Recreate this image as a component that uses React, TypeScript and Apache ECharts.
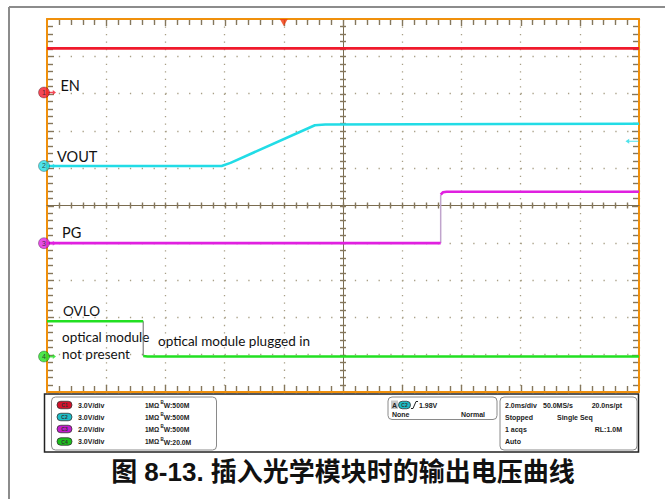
import React, { useEffect, useRef } from 'react';
import * as echarts from 'echarts';

// ---- scope settings (time in ms relative to trigger, 2 ms/div; vertical in divisions) ----
const timeMin = -8;
const timeMax = 12;
const timeDiv = 2;
const divMin = -5;
const divMax = 5;
const minorPerDiv = 5;

const channelNames = ['EN', 'VOUT', 'PG', 'OVLO'];
const channelIds = ['1', '2', '3', '4'];
const channelColors = ['#f01a2c', '#22dce6', '#e020e0', '#22e022'];
const channelOffsets = [3.03, 1.06, -1.01, -4.05]; // ground level, divisions
const channelScales = [3, 3, 2, 3]; // V/div
const channelVdiv = ['3.0V/div', '3.0V/div', '2.0V/div', '3.0V/div'];
const channelBw = ['500M', '500M', '500M', '20.0M'];
const pillColors = ['#d4102a', '#1cbcc6', '#c41ccc', '#1cc01c'];

// ---- traces (volts) ----
const enTime = [-8, 12];
const enVolt = [3.55, 3.55];
const voutTime = [-8, -2.1, -1.8, 1.05, 1.4, 12];
const voutVolt = [0, 0, 0.25, 3.27, 3.33, 3.4];
const pgTime = [-8, 5.3, 5.3, 5.38, 5.5, 12];
const pgVolt = [0, 0, 2.6, 2.73, 2.76, 2.76];
const ovloTime = [-8, -4.75, -4.75, -4.6, 12];
const ovloVolt = [2.84, 2.84, 0.05, 0, 0];
const triggerLevel = 1.98; // V on C2

const toPts = (ch: number, t: number[], v: number[], from = 0, to = t.length) =>
  t.slice(from, to).map((x, i) => [x, channelOffsets[ch] + v[from + i] / channelScales[ch]]);

const orange = '#f0900c';
const tickColor = '#85775c';
const centerColor = '#7a6c50';
const gridDot = '#a89f86';

export default function App() {
  const ref = useRef<HTMLDivElement>(null);
  useEffect(() => {
    const chart = echarts.init(ref.current!, null, { renderer: 'svg' });
    const baseX: any = { type: 'value', min: timeMin, max: timeMax, interval: timeDiv, axisLabel: { show: false }, axisTick: { show: false }, splitLine: { show: false } };
    const baseY: any = { type: 'value', min: divMin, max: divMax, interval: 1, axisLabel: { show: false }, axisTick: { show: false }, splitLine: { show: false } };
    const border = { show: true, onZero: false, lineStyle: { color: orange, width: 2 } };
    const center = { show: true, onZero: false, lineStyle: { color: centerColor, width: 1 } };

    const lineSeries = (data: number[][], color: string, width: number, z = 5) => ({
      type: 'line', data, showSymbol: false, symbol: 'none', xAxisIndex: 0, yAxisIndex: 0,
      lineStyle: { color, width }, z, silent: true,
    });

    const textEl = (x: number, y: number, text: string, fontSize: number, extra: any = {}) => ({
      type: 'text', x, y, silent: true,
      style: { text, fontSize, fontFamily: 'Lato, "Liberation Sans", sans-serif', fill: '#111', align: 'left', verticalAlign: 'middle', ...extra },
    });
    const panelText = (x: number, y: number, text: string, extra: any = {}) => ({
      type: 'text', x, y, silent: true,
      style: { text, fontSize: 7, fontFamily: '"Liberation Sans", Arial, sans-serif', fontWeight: 'bold', fill: '#222', align: 'left', verticalAlign: 'middle', ...extra },
    });

    const rowsY = [405, 417, 429, 441.5];
    const panelEls: any[] = [
      { type: 'rect', shape: { x: 44.5, y: 394, width: 594, height: 58 }, style: { fill: '#fff', stroke: '#222', lineWidth: 1.5 } },
      { type: 'rect', shape: { x: 51.5, y: 397, width: 165, height: 53, r: 4 }, style: { fill: 'none', stroke: '#8a8a8a', lineWidth: 1 } },
      { type: 'rect', shape: { x: 388, y: 397, width: 109, height: 22.5, r: 4 }, style: { fill: 'none', stroke: '#8a8a8a', lineWidth: 1 } },
      { type: 'rect', shape: { x: 500, y: 397, width: 137, height: 53, r: 4 }, style: { fill: 'none', stroke: '#8a8a8a', lineWidth: 1 } },
    ];
    rowsY.forEach((ry, i) => {
      panelEls.push({ type: 'rect', shape: { x: 57, y: ry - 3.75, width: 15, height: 7.5, r: 3.75 }, style: { fill: pillColors[i], stroke: '#333', lineWidth: 0.8 } });
      panelEls.push(panelText(64.5, ry, 'C' + channelIds[i], { fontSize: 5, align: 'center', fill: '#333' }));
      panelEls.push(panelText(78, ry, channelVdiv[i]));
      panelEls.push(panelText(145, ry, '1MΩ', { fontSize: 6.5 }));
      panelEls.push(panelText(160.5, ry - 2.5, 'B', { fontSize: 4.5 }));
      panelEls.push(panelText(163.8, ry + 0.5, 'W:' + channelBw[i], { fontSize: 6.8 }));
    });
    panelEls.push(
      { type: 'rect', shape: { x: 391, y: 400.5, width: 7, height: 8.5 }, style: { fill: '#c8c8c8' } },
      panelText(394.5, 405, 'A', { align: 'center' }),
      { type: 'rect', shape: { x: 398.5, y: 401.25, width: 12, height: 7.5, r: 3.75 }, style: { fill: pillColors[1], stroke: '#333', lineWidth: 0.8 } },
      panelText(404.5, 405, 'C2', { fontSize: 5, align: 'center', fill: '#333' }),
      { type: 'polyline', shape: { points: [[411, 408.5], [413, 408.5], [416, 401.5], [418, 401.5]] }, style: { stroke: '#222', lineWidth: 1, fill: 'none' } },
      panelText(419, 405, triggerLevel.toFixed(2) + 'V'),
      panelText(392, 414.5, 'None'),
      panelText(485, 414.5, 'Normal', { align: 'right' }),
      panelText(505, rowsY[0], '2.0ms/div'),
      panelText(543, rowsY[0], '50.0MS/s'),
      panelText(622, rowsY[0], '20.0ns/pt', { align: 'right' }),
      panelText(505, rowsY[1], 'Stopped'),
      panelText(557, rowsY[1], 'Single Seq'),
      panelText(505, rowsY[2], '1 acqs'),
      panelText(622, rowsY[2], 'RL:1.0M', { align: 'right' }),
      panelText(505, rowsY[3], 'Auto'),
    );

    const baseGraphic: any[] = [
      { type: 'line', shape: { x1: 9, y1: 7, x2: 665, y2: 7 }, style: { stroke: '#8c8c8c', lineWidth: 2 } },
      { type: 'line', shape: { x1: 9, y1: 7, x2: 9, y2: 499 }, style: { stroke: '#8c8c8c', lineWidth: 2 } },
      textEl(60.5, 85, channelNames[0], 14.5),
      textEl(57, 156, channelNames[1], 14.5),
      textEl(62, 232, channelNames[2], 14.5),
      textEl(63, 310.5, channelNames[3], 13.5),
      textEl(62, 337, 'optical module', 13.5),
      textEl(62, 353.5, 'not present', 13.5),
      textEl(158, 341, 'optical module plugged in', 13.5),
      ...panelEls,
      {
        type: 'text', x: 343, y: 472, silent: true,
        style: { text: '图 8-13. 插入光学模块时的输出电压曲线', fontSize: 26, fontWeight: 'bold', fontFamily: '"Liberation Sans", "Noto Sans CJK SC", sans-serif', fill: '#111', align: 'center', verticalAlign: 'middle' },
      },
    ];

    const option: any = {
      animation: false,
      backgroundColor: '#fff',
      grid: { left: 47, top: 19, width: 592, height: 373, containLabel: false },
      xAxis: [
        { ...baseX, position: 'bottom', axisLine: border, splitLine: { show: true, lineStyle: { color: gridDot, width: 1.3, type: [1.3, 6.16] } } },
        { ...baseX, position: 'top', axisLine: border },
        { ...baseX, position: 'bottom', offset: -186.5, axisLine: center },
      ],
      yAxis: [
        { ...baseY, position: 'left', axisLine: border, splitLine: { show: true, lineStyle: { color: gridDot, width: 1.3, type: [1.3, 10.54] } } },
        { ...baseY, position: 'right', axisLine: border },
        { ...baseY, position: 'left', offset: -296, axisLine: center },
      ],
      series: [
        lineSeries(toPts(0, enTime, enVolt), channelColors[0], 2.6),
        lineSeries(toPts(1, voutTime, voutVolt), channelColors[1], 2.6),
        lineSeries(toPts(2, pgTime, pgVolt, 0, 2), channelColors[2], 2.6),
        lineSeries(toPts(2, pgTime, pgVolt, 1, 3), '#c0a4cc', 1.5, 4),
        lineSeries(toPts(2, pgTime, pgVolt, 2), channelColors[2], 2.6),
        lineSeries(toPts(3, ovloTime, ovloVolt, 0, 2), channelColors[3], 2.6),
        lineSeries(toPts(3, ovloTime, ovloVolt, 1, 3), '#666', 1, 4),
        lineSeries(toPts(3, ovloTime, ovloVolt, 2), channelColors[3], 2.6),
        {
          type: 'scatter', clip: false, silent: true, z: 10, xAxisIndex: 0, yAxisIndex: 0,
          symbol: 'path://M0,3 L6,3 L6,1 L10,4 L6,7 L6,5 L0,5 Z', symbolSize: [8, 5], symbolOffset: [5, 0],
          data: channelOffsets.map((o, i) => ({ value: [timeMin, o], itemStyle: { color: channelColors[i] } })),
        },
        {
          type: 'scatter', clip: false, silent: true, z: 11, xAxisIndex: 0, yAxisIndex: 0,
          symbol: 'circle', symbolSize: 11, symbolOffset: [-3, 0],
          label: { show: true, position: 'inside', fontSize: 7, color: '#222', fontFamily: 'Arial, sans-serif', formatter: (p: any) => channelIds[p.dataIndex] },
          data: channelOffsets.map((o, i) => ({ value: [timeMin, o], itemStyle: { color: channelColors[i], borderColor: 'rgba(0,0,0,0.35)', borderWidth: 1 } })),
        },
        {
          type: 'scatter', clip: false, silent: true, z: 10, xAxisIndex: 0, yAxisIndex: 0,
          symbol: 'triangle', symbolRotate: 180, symbolSize: [8, 7], symbolOffset: [0, 3.5],
          itemStyle: { color: '#f23a0c' },
          data: [[0, divMax]],
        },
        {
          type: 'scatter', clip: false, silent: true, z: 10, xAxisIndex: 0, yAxisIndex: 0,
          symbol: 'path://M0,3 L4,0 L4,2.4 L14,2.4 L14,3.6 L4,3.6 L4,6 Z', symbolSize: [13, 5], symbolOffset: [-7, 0],
          itemStyle: { color: channelColors[1] },
          data: [[timeMax, channelOffsets[1] + triggerLevel / channelScales[1]]],
        },
      ],
      graphic: baseGraphic,
    };
    chart.setOption(option);

    // graticule tick marks on the border and centre lines, positioned through the chart's own scales
    const px = (t: number, d: number) => chart.convertToPixel({ seriesIndex: 0 }, [t, d]) as number[];
    const [xL, yB] = px(timeMin, divMin);
    const [xR, yT] = px(timeMax, divMax);
    const [xC, yC] = px((timeMin + timeMax) / 2, 0);
    const ticks: any[] = [];
    const ln = (x1: number, y1: number, x2: number, y2: number) => ({
      type: 'line', silent: true, z: 1, shape: { x1, y1, x2, y2 }, style: { stroke: tickColor, lineWidth: 1.4 },
    });
    const nx = ((timeMax - timeMin) / timeDiv) * minorPerDiv;
    for (let k = 1; k < nx; k++) {
      const x = Math.round(px(timeMin + (k * timeDiv) / minorPerDiv, 0)[0]) + 0.5;
      const len = k % minorPerDiv === 0 ? 6 : 5;
      ticks.push(ln(x, yT + 1, x, yT + 1 + len), ln(x, yB - 1, x, yB - 1 - len), ln(x, yC - 3, x, yC + 3));
    }
    const ny = (divMax - divMin) * minorPerDiv;
    for (let k = 1; k < ny; k++) {
      const y = Math.round(px(timeMin, divMin + k / minorPerDiv)[1]) + 0.5;
      const len = k % minorPerDiv === 0 ? 6 : 5;
      ticks.push(ln(xL + 1, y, xL + 1 + len, y), ln(xR - 1, y, xR - 1 - len, y), ln(xC - 3, y, xC + 3, y));
    }
    chart.setOption({ graphic: [...baseGraphic, ...ticks] });
    return () => chart.dispose();
  }, []);
  return <div ref={ref} style={{ position: 'absolute', left: 0, top: 0, width: 665, height: 499, background: '#fff' }} />;
}
